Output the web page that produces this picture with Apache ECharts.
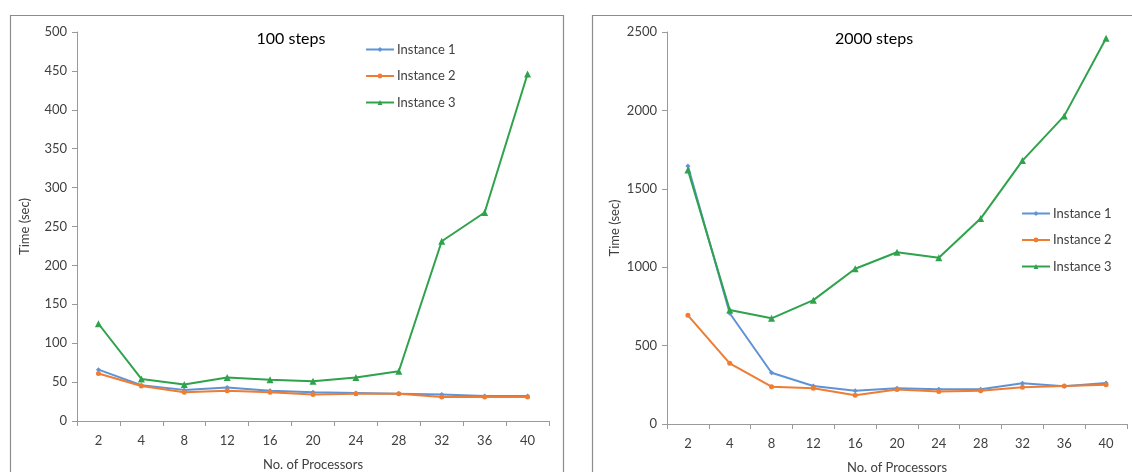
<!DOCTYPE html>
<html>
<head>
<meta charset="utf-8">
<script src="https://cdn.jsdelivr.net/npm/echarts@6/dist/echarts.min.js"></script>
<style>
  html, body { margin: 0; padding: 0; background: #fff; }
  #chart { width: 1132px; height: 472px; }
</style>
</head>
<body>
<div id="chart"></div>
<script>
// Processor counts on the x axis
const processors = ['2', '4', '8', '12', '16', '20', '24', '28', '32', '36', '40'];

// Run times (sec) for 100 steps
const steps100Instance1 = [66, 46, 40, 43, 39, 37, 36, 35, 34, 32, 32];
const steps100Instance2 = [61, 45, 37, 39, 37, 34, 35, 35, 31, 31, 31];
const steps100Instance3 = [125, 54, 47, 56, 53, 51, 56, 64, 231, 268, 446];

// Run times (sec) for 2000 steps
const steps2000Instance1 = [1645, 706, 327, 242, 212, 228, 221, 221, 260, 240, 262];
const steps2000Instance2 = [693, 387, 238, 228, 183, 220, 208, 212, 234, 242, 251];
const steps2000Instance3 = [1620, 727, 674, 790, 990, 1095, 1060, 1310, 1680, 1965, 2460];

const seriesNames = ['Instance 1', 'Instance 2', 'Instance 3'];
const colors = ['#5f93d6', '#ee7d33', '#2fa24c'];
const symbols = ['diamond', 'circle', 'triangle'];

const FONT = 'Lato, "Open Sans", sans-serif';
const TEXT = '#404040';
const AXIS = '#9a9a9a';

function xAxisFor(gridIndex) {
  return {
    type: 'category',
    gridIndex,
    data: processors,
    boundaryGap: true,
    name: 'No. of Processors',
    nameLocation: 'middle',
    nameGap: 37,
    nameTextStyle: { color: TEXT, fontFamily: FONT, fontSize: 13 },
    axisLine: { lineStyle: { color: AXIS, width: 1 } },
    axisTick: { show: true, alignWithLabel: false, length: 5, lineStyle: { color: AXIS } },
    axisLabel: { color: TEXT, fontFamily: FONT, fontSize: 13, margin: 13 },
    splitLine: { show: false }
  };
}

function yAxisFor(gridIndex, max, interval) {
  return {
    type: 'value',
    gridIndex,
    min: 0,
    max,
    interval,
    name: 'Time (sec)',
    nameLocation: 'middle',
    nameGap: 46,
    nameRotate: 90,
    nameTextStyle: { color: TEXT, fontFamily: FONT, fontSize: 13 },
    axisLine: { show: true, lineStyle: { color: AXIS, width: 1 } },
    axisTick: { show: true, inside: false, length: 5, lineStyle: { color: AXIS } },
    axisLabel: { color: TEXT, fontFamily: FONT, fontSize: 13, margin: 10,
                 formatter: (v) => String(v) },
    splitLine: { show: false }
  };
}

function lineSeries(name, idx, data, axisIndex) {
  return {
    name,
    type: 'line',
    xAxisIndex: axisIndex,
    yAxisIndex: axisIndex,
    data,
    symbol: symbols[idx],
    symbolSize: idx === 2 ? 7 : 5,
    showSymbol: true,
    lineStyle: { color: colors[idx], width: 2 },
    itemStyle: { color: colors[idx] },
    emphasis: { disabled: true },
    animation: false
  };
}

function legendFor(left, top) {
  return {
    orient: 'vertical',
    left,
    top,
    itemWidth: 28,
    itemHeight: 6,
    itemGap: 13.5,
    data: seriesNames.map((n) => ({ name: n })),
    textStyle: { color: TEXT, fontFamily: FONT, fontSize: 13, padding: [0, 0, 0, -2] },
    selectedMode: false
  };
}

const chart = echarts.init(document.getElementById('chart'), null, { renderer: 'canvas' });

chart.setOption({
  backgroundColor: '#ffffff',
  animation: false,
  graphic: [
    { type: 'rect', shape: { x: 10.5, y: 15.5, width: 553, height: 480 }, style: { fill: 'none', stroke: '#8c8c8c', lineWidth: 1.2 }, z: -1 },
    { type: 'rect', shape: { x: 592.5, y: 15.5, width: 560, height: 480 }, style: { fill: 'none', stroke: '#8c8c8c', lineWidth: 1.2 }, z: -1 }
  ],
  title: [
    { text: '100 steps', left: 286, top: 26, textAlign: 'center',
      textStyle: { color: '#000', fontFamily: FONT, fontSize: 16, fontWeight: 'normal' } },
    { text: '2000 steps', left: 869, top: 26, textAlign: 'center',
      textStyle: { color: '#000', fontFamily: FONT, fontSize: 16, fontWeight: 'normal' } }
  ],
  legend: [
    Object.assign(legendFor(360, 38), { id: 'legL' }),
    Object.assign(legendFor(1016, 202), { id: 'legR' })
  ],
  grid: [
    { left: 77, top: 32, right: 1132 - 549, bottom: 472 - 421, outerBoundsMode: 'none', containLabel: false },
    { left: 667, top: 32, right: 1132 - 1127, bottom: 472 - 424, outerBoundsMode: 'none', containLabel: false }
  ],
  xAxis: [xAxisFor(0), xAxisFor(1)],
  yAxis: [yAxisFor(0, 500, 50), yAxisFor(1, 2500, 500)],
  series: [
    lineSeries(seriesNames[0], 0, steps100Instance1, 0),
    lineSeries(seriesNames[1], 1, steps100Instance2, 0),
    lineSeries(seriesNames[2], 2, steps100Instance3, 0),
    lineSeries(seriesNames[0], 0, steps2000Instance1, 1),
    lineSeries(seriesNames[1], 1, steps2000Instance2, 1),
    lineSeries(seriesNames[2], 2, steps2000Instance3, 1)
  ]
});
</script>
</body>
</html>
